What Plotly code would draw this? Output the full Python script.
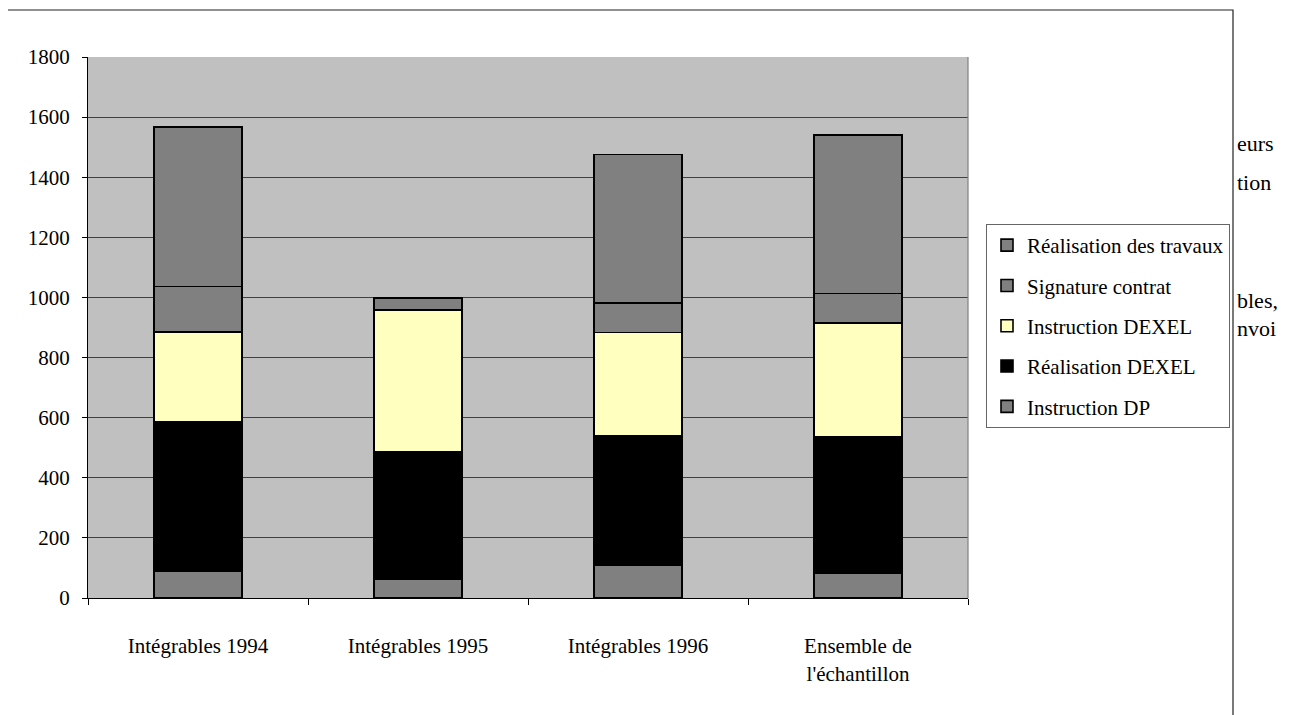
import plotly.graph_objects as go

categories = ["Intégrables 1994", "Intégrables 1995", "Intégrables 1996", "Ensemble de<br>l'échantillon"]
instruction_dp = [90, 62, 110, 82]
realisation_dexel = [496, 425, 430, 455]
instruction_dexel = [299, 471, 344, 378]
signature_contrat = [151, 41, 98, 98]
realisation_travaux = [532, None, 494, 527]

series = [
    ("Instruction DP", instruction_dp, "#808080"),
    ("Réalisation DEXEL", realisation_dexel, "#000000"),
    ("Instruction DEXEL", instruction_dexel, "#FFFFC0"),
    ("Signature contrat", signature_contrat, "#808080"),
    ("Réalisation des travaux", realisation_travaux, "#808080"),
]

FONT = "Liberation Serif"

fig = go.Figure()
n = len(series)
for i, (name, vals, col) in enumerate(series):
    fig.add_trace(go.Bar(
        x=categories, y=vals, name=name, legendgroup=f"g{i}",
        legendrank=n - i,
        marker=dict(color=col, line=dict(color="#000000", width=1.6)),
        width=0.4,
    ))

# page body offset of 8px is compensated
OFF = 8
W, H = 1292 - OFF, 715 - OFF
L, R, T, B = 88 - OFF, 968 - OFF, 57 - OFF, 598 - OFF
pw, ph = R - L, B - T

def px(x):
    return (x - OFF - L) / pw

def py(y):
    return (B - (y - OFF)) / ph

shapes = [
    dict(type="rect", xref="paper", yref="paper", x0=px(6), x1=px(1233), y0=py(760), y1=py(10),
         line=dict(color="#222222", width=1.2), fillcolor="rgba(0,0,0,0)", layer="above"),
    dict(type="line", xref="paper", yref="paper", x0=1, x1=1, y0=0, y1=1,
         line=dict(color="#808080", width=1.2)),
]

annotations = []
for txt, yy in [("eurs", 143), ("tion", 183), ("bles,", 300), ("nvoi", 329)]:
    annotations.append(dict(text=txt, xref="paper", yref="paper", x=px(1235), y=py(yy),
                            xanchor="left", yanchor="middle", showarrow=False,
                            font=dict(family=FONT, size=22, color="#000000")))

fig.update_layout(
    width=W, height=H,
    margin=dict(l=L, r=W - R, t=T, b=H - B, pad=0),
    barmode="stack",
    paper_bgcolor="#FFFFFF",
    plot_bgcolor="#C0C0C0",
    font=dict(family=FONT, size=21, color="#000000"),
    showlegend=True,
    legend=dict(
        x=px(986), y=py(224), xanchor="left", yanchor="top",
        bgcolor="#FFFFFF", bordercolor="#666666", borderwidth=1,
        traceorder="grouped", tracegroupgap=10,
        font=dict(family=FONT, size=21, color="#000000"),
        itemwidth=30,
    ),
    xaxis=dict(
        type="category", tickson="boundaries", ticks="outside", ticklen=6,
        tickcolor="#000000", showline=True, linecolor="#000000", linewidth=1.2,
        showgrid=False, ticklabelstandoff=29,
        tickfont=dict(family=FONT, size=21),
    ),
    yaxis=dict(
        range=[0, 1800], dtick=200, ticks="outside", ticklen=5, tickcolor="#000000",
        showline=True, linecolor="#000000", linewidth=1.2,
        showgrid=True, gridcolor="#404040", gridwidth=1,
        zeroline=False, ticklabelstandoff=8,
        tickfont=dict(family=FONT, size=21),
    ),
    shapes=shapes,
    annotations=annotations,
)

fig.write_html("out.html")
